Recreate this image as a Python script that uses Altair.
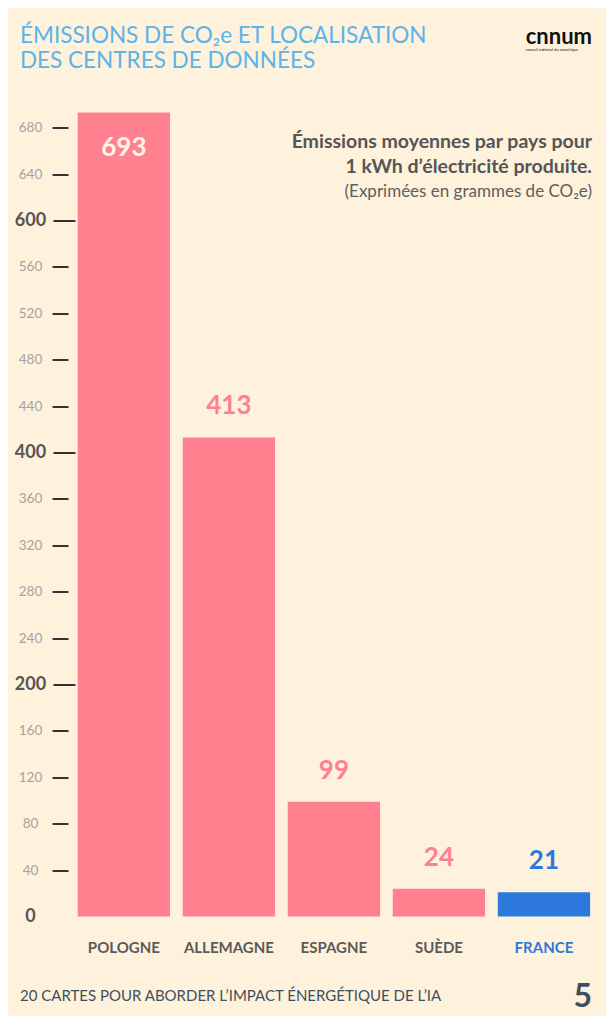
import altair as alt
import pandas as pd

countries = ["POLOGNE", "ALLEMAGNE", "ESPAGNE", "SUÈDE", "FRANCE"]
values = [693, 413, 99, 24, 21]
bar_colors = ["#FF808F", "#FF808F", "#FF808F", "#FF808F", "#2C78DC"]
major_ticks = [0, 200, 400, 600]
minor_ticks = [40, 80, 120, 160, 240, 280, 320, 360, 440, 480, 520, 560, 640, 680]

title_lines = ["ÉMISSIONS DE CO₂e ET LOCALISATION", "DES CENTRES DE DONNÉES"]
note_bold = ["Émissions moyennes par pays pour", "1 kWh d’électricité produite."]
note_light = "(Exprimées en grammes de CO₂e)"
footer = "20 CARTES POUR ABORDER L’IMPACT ÉNERGÉTIQUE DE L’IA"
page_no = "5"

FONT = "Lato"
BG = "#FEF2DC"

df = pd.DataFrame({"pays": countries, "valeur": values})

x_enc = alt.X(
    "pays:N",
    sort=countries,
    scale=alt.Scale(paddingInner=0.121, paddingOuter=0.06),
    axis=alt.Axis(
        title=None, ticks=False, domain=False, labelAngle=0,
        labelFont=FONT, labelFontSize=15, labelFontWeight="bold",
        labelColor={"condition": {"test": "datum.value == 'FRANCE'", "value": "#2C78DC"}, "value": "#5A5A5A"},
        labelBaseline="middle", labelPadding=31,
    ),
)
y_scale = alt.Scale(domain=[0, 700], nice=False)
color_enc = alt.Color("pays:N", scale=alt.Scale(domain=countries, range=bar_colors), legend=None)

bars = alt.Chart(df).mark_bar().encode(
    x=x_enc,
    y=alt.Y("valeur:Q", scale=y_scale, axis=alt.Axis(
        title=None, values=major_ticks, grid=False, domain=False, orient="left",
        offset=-3.6, tickSize=22, tickWidth=2, tickColor="#333333",
        tickOpacity={"condition": {"test": "datum.value == 0", "value": 0}, "value": 1},
        labelFont=FONT, labelFontSize=18, labelFontWeight="bold", labelColor="#555555",
        labelAlign="center", labelPadding=23,
    )),
    color=color_enc,
)

labels_out = alt.Chart(df).transform_filter("datum.valeur < 600").mark_text(
    font=FONT, fontSize=26, fontWeight="bold", baseline="middle", dy=-31
).encode(
    x=alt.X("pays:N", sort=countries),
    y=alt.Y("valeur:Q", scale=y_scale, axis=alt.Axis(
        title=None, values=minor_ticks, grid=False, domain=False, orient="left",
        offset=3.4, tickSize=16, tickWidth=2, tickColor="#333333",
        labelFont=FONT, labelFontSize=13.5, labelColor="#A3A3A3",
        labelAlign="center", labelPadding=22,
    )),
    text=alt.Text("valeur:Q"),
    color=color_enc,
)

labels_in = alt.Chart(df).transform_filter("datum.valeur >= 600").mark_text(
    font=FONT, fontSize=26, fontWeight="bold", baseline="middle", dy=35, color="#FFF5E6"
).encode(
    x=alt.X("pays:N", sort=countries),
    y=alt.Y("valeur:Q", scale=y_scale, axis=None),
    text=alt.Text("valeur:Q"),
)

one = alt.Data(values=[{}])

def txt(text, x, y, **kw):
    return alt.Chart(one).mark_text(font=FONT, baseline="middle", **kw).encode(
        x=alt.value(x), y=alt.value(y), text=alt.value(text))

title1 = txt(title_lines[0], -51.4, -68.5, align="left", fontSize=22.5, color="#5AB4EA")
title2 = txt(title_lines[1], -51.4, -43.5, align="left", fontSize=22.5, color="#5AB4EA")
logo = txt("cnnum", 520.6, -68, align="right", fontSize=22, fontWeight="bold", color="#111111")
logo_sub = txt("conseil national du numérique", 507, -55, align="right", fontSize=4, color="#111111")
note1 = txt(note_bold[0], 520.6, 37.5, align="right", fontSize=19.5, fontWeight="bold", color="#555555")
note2 = txt(note_bold[1], 520.6, 62.5, align="right", fontSize=19.5, fontWeight="bold", color="#555555")
note3 = txt(note_light, 520.6, 87, align="right", fontSize=17, color="#5E5E5E")
foot = txt(footer, -51.4, 891.5, align="left", fontSize=15, color="#3D5060")
page = txt(page_no, 520.6, 892.5, align="right", fontSize=32, fontWeight="bold", color="#3D5060")

chart = alt.layer(
    bars, labels_out, labels_in, title1, title2, logo, logo_sub, note1, note2, note3, foot, page
).resolve_axis(y="independent").properties(
    width=525, height=812,
    padding={"left": 63.4, "top": 96.5, "right": 9.6, "bottom": 99.5},
    autosize=alt.AutoSizeParams(type="none"),
    background=BG,
).configure_view(stroke=None)

chart.save("out.html", embed_options={"renderer": "svg", "actions": False})
